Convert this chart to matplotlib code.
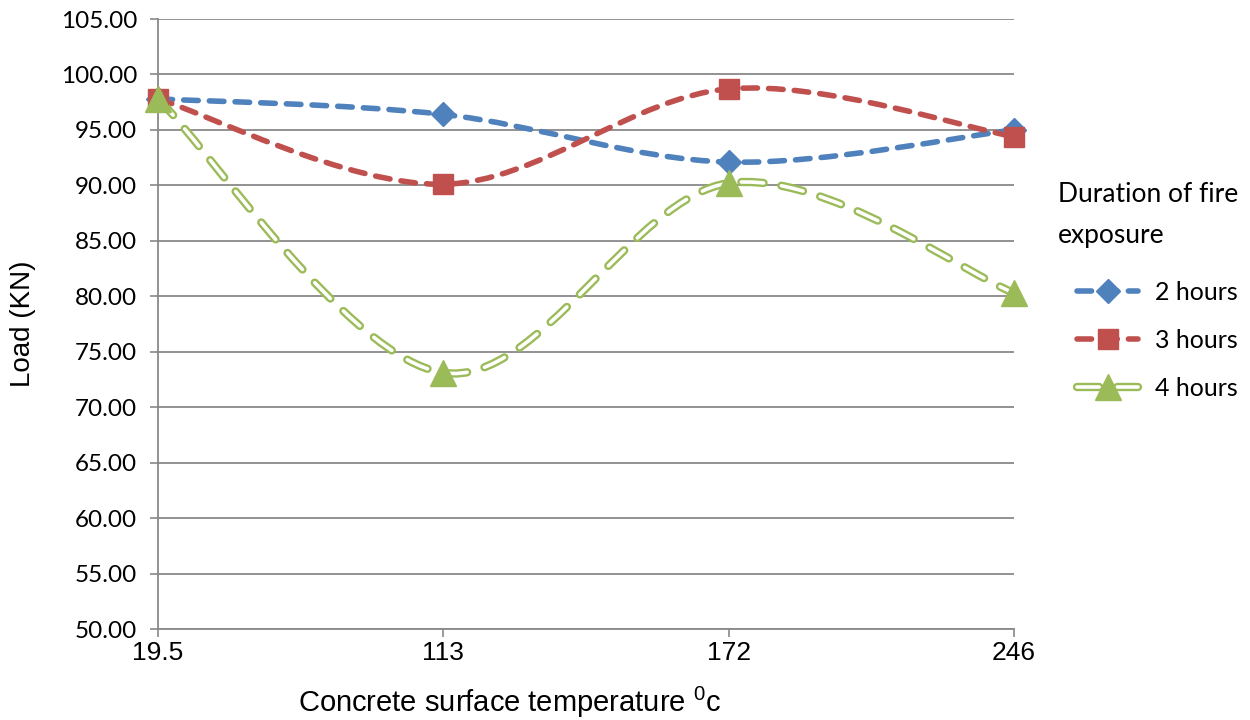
import numpy as np
import matplotlib
matplotlib.use("Agg")
import matplotlib.pyplot as plt
from matplotlib.path import Path
from matplotlib.patches import PathPatch
from matplotlib.lines import Line2D

plt.rcParams['lines.scale_dashes'] = False
plt.rcParams['mathtext.fontset'] = 'custom'
plt.rcParams['mathtext.rm'] = 'Liberation Sans'
plt.rcParams['mathtext.default'] = 'rm'

# Concrete surface temperature (deg C) and failure load (kN)
temperatures = ['19.5', '113', '172', '246']
load_2h = [97.8, 96.4, 92.1, 95.0]
load_3h = [97.8, 90.1, 98.7, 94.4]
load_4h = [97.8, 73.1, 90.2, 80.3]
series_names = ['2 hours', '3 hours', '4 hours']
y_ticks = np.arange(50, 106, 5)

BLUE = '#4F81BD'
RED = '#C0504D'
GREEN = '#9BBB59'
GRID = '#898989'


def smooth_path(xs, ys):
    """Cubic Bezier through the points (Catmull-Rom style, like spreadsheet smoothed lines)."""
    pts = np.column_stack([xs, ys]).astype(float)
    n = len(pts)
    verts = [pts[0]]
    codes = [Path.MOVETO]
    for i in range(n - 1):
        p_prev = pts[i - 1] if i > 0 else pts[i]
        p_next = pts[i + 2] if i + 2 < n else pts[i + 1]
        c1 = pts[i] + (pts[i + 1] - p_prev) / 6.0
        c2 = pts[i + 1] - (p_next - pts[i]) / 6.0
        verts += [c1, c2, pts[i + 1]]
        codes += [Path.CURVE4] * 3
    return Path(verts, codes)


def add_curve(ax, xs, ys, color, lw, dashes, zorder):
    patch = PathPatch(smooth_path(xs, ys), facecolor='none', edgecolor=color,
                      lw=lw, linestyle=(0, dashes), capstyle='round',
                      joinstyle='round', zorder=zorder, clip_on=False)
    ax.add_patch(patch)


fig = plt.figure(figsize=(12.5, 7.2), dpi=100)
ax = fig.add_axes([158 / 1250, 1 - 629 / 720, (1014 - 158) / 1250, (629 - 19) / 720])

x = np.arange(len(temperatures))

solid_dash = (10.5, 8)
green_dash = (16, 13)
green_outer, green_inner = 6.0, 2.6

add_curve(ax, x, load_2h, BLUE, 4.0, solid_dash, 3)
add_curve(ax, x, load_3h, RED, 4.0, solid_dash, 4)
add_curve(ax, x, load_4h, GREEN, green_outer, green_dash, 5)
add_curve(ax, x, load_4h, 'white', green_inner, green_dash, 6)

ax.plot(x, load_2h, linestyle='none', marker='D', ms=12, color=BLUE, zorder=7, clip_on=False)
ax.plot(x, load_3h, linestyle='none', marker='s', ms=14, color=RED, zorder=8, clip_on=False)
ax.plot(x, load_4h, linestyle='none', marker='^', ms=19, color=GREEN, zorder=9, clip_on=False)

ax.set_xlim(0, len(temperatures) - 1)
ax.set_ylim(50, 105)
ax.set_xticks(x)
ax.set_xticklabels(temperatures, fontsize=19, family=['Liberation Sans Narrow', 'Liberation Sans'])
ax.set_yticks(y_ticks)
ax.set_yticklabels([f'{v:.2f}' for v in y_ticks], fontsize=17.5, family='Lato')
ax.tick_params(axis='x', direction='out', length=6, width=1.2, color=GRID, pad=3)
ax.tick_params(axis='y', direction='out', length=6, width=1.2, color=GRID, pad=9)
ax.yaxis.grid(True, color=GRID, lw=1.3)
ax.set_axisbelow(True)
for side in ['top', 'right']:
    ax.spines[side].set_visible(False)
for side in ['left', 'bottom']:
    ax.spines[side].set_color(GRID)
    ax.spines[side].set_linewidth(1.3)

ax.set_ylabel('Load (KN)', fontsize=20, family='Liberation Sans', labelpad=18)
fig.text(510 / 1250, 1 - 702 / 720, 'Concrete surface temperature $^{0}$c',
         fontsize=21, family='Liberation Sans', ha='center', va='center')

# legend handles: line + marker, green one drawn as a hollow double line
h2 = (Line2D([], [], color=BLUE, lw=4.0, dashes=solid_dash, dash_capstyle='round'),
      Line2D([], [], linestyle='none', marker='D', ms=12, color=BLUE))
h3 = (Line2D([], [], color=RED, lw=4.0, dashes=solid_dash, dash_capstyle='round'),
      Line2D([], [], linestyle='none', marker='s', ms=14, color=RED))
h4 = (Line2D([], [], color=GREEN, lw=green_outer, dashes=green_dash, dash_capstyle='round'),
      Line2D([], [], color='white', lw=green_inner, dashes=green_dash, dash_capstyle='round'),
      Line2D([], [], linestyle='none', marker='^', ms=19, color=GREEN))

fig.text(1058 / 1250, 1 - 215 / 720, 'Duration of fire\nexposure', family='Lato',
         fontsize=19, ha='left', va='center', linespacing=1.75)
leg = fig.legend([h2, h3, h4], series_names,
                 loc='upper left', bbox_to_anchor=(1077 / 1250, 1 - 281 / 720),
                 frameon=False, prop={'family': 'Lato', 'size': 18},
                 handlelength=2.45, handletextpad=0.68,
                 labelspacing=1.0, borderaxespad=0, borderpad=0)

fig.savefig('out.png', dpi=100)
